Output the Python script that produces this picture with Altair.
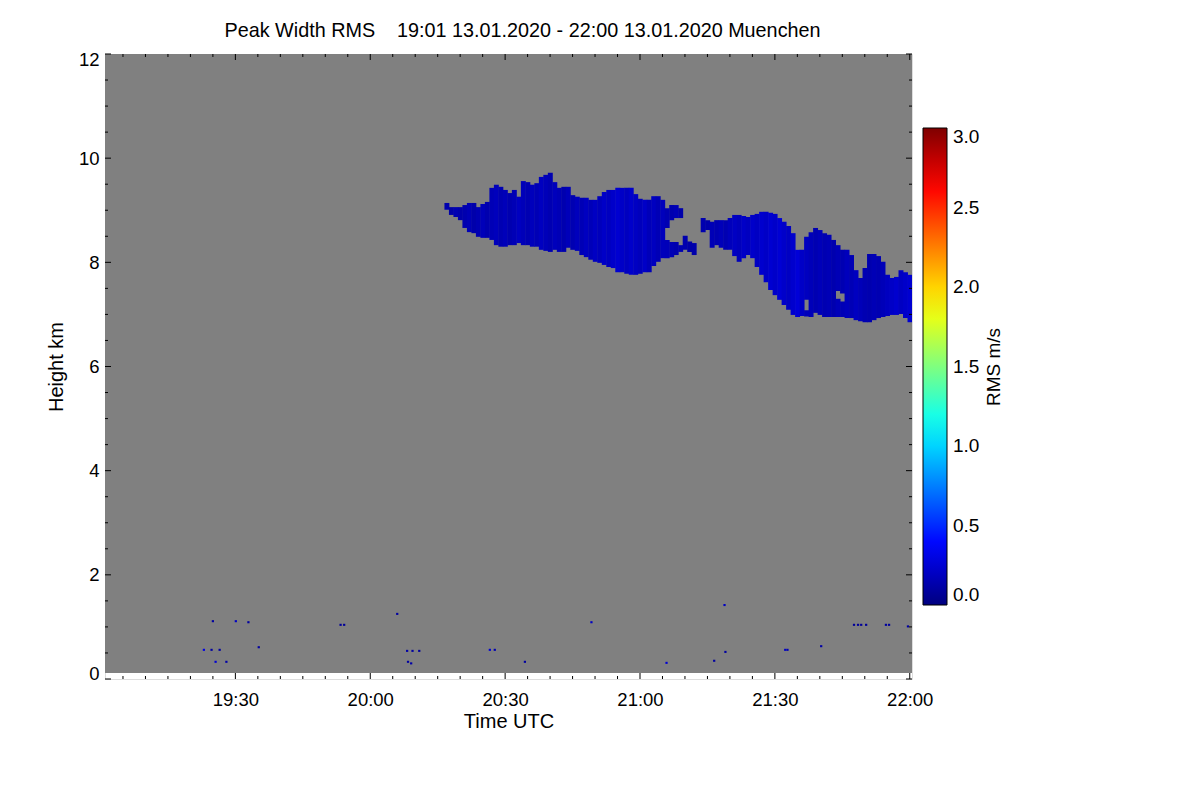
import altair as alt
import pandas as pd

FONT = "Liberation Sans"
W, H = 807, 625

title_text = "Peak Width RMS\u00a0\u00a0\u00a0 19:01 13.01.2020 - 22:00 13.01.2020 Muenchen"
x_title = "Time UTC"
y_title = "Height km"
cbar_title = "RMS m/s"

# time in minutes after 19:00 UTC, height in km, RMS in m/s
cloud_min = [77, 78, 79, 80, 81, 82, 83, 84, 85, 86, 87, 88, 89, 90, 91, 92, 93, 94, 95, 96,
             97, 98, 99, 100, 101, 102, 103, 104, 105, 106, 107, 108, 109, 110, 111, 112, 113,
             114, 115, 116, 117, 118, 119, 120, 121, 122, 123, 124, 125, 126, 126, 127, 127,
             128, 128, 129, 129, 130, 131, 132, 134, 135, 136, 137, 138, 139, 140, 141, 142,
             143, 144, 145, 146, 147, 148, 149, 150, 151, 152, 153, 154, 155, 156, 157, 157,
             158, 159, 160, 161, 162, 163, 164, 164, 165, 165, 166, 167, 168, 169, 170, 171,
             172, 173, 174, 175, 176, 177, 178, 179, 180]
cloud_bottom = [9.01, 8.91, 8.87, 8.81, 8.66, 8.58, 8.56, 8.49, 8.47, 8.47, 8.43, 8.33, 8.30, 8.30,
                8.33, 8.33, 8.37, 8.33, 8.33, 8.30, 8.30, 8.24, 8.22, 8.20, 8.24, 8.20, 8.20, 8.28,
                8.24, 8.22, 8.14, 8.10, 8.05, 8.01, 7.99, 7.95, 7.91, 7.89, 7.81, 7.81, 7.78, 7.76,
                7.76, 7.78, 7.81, 7.81, 7.93, 8.01, 8.08, 8.66, 8.08, 8.81, 8.10, 8.85, 8.14, 8.85,
                8.20, 8.24, 8.20, 8.14, 8.58, 8.62, 8.28, 8.33, 8.28, 8.24, 8.24, 8.12, 8.01, 8.08,
                8.14, 8.08, 7.91, 7.76, 7.62, 7.47, 7.37, 7.28, 7.18, 7.09, 6.99, 6.95, 6.97, 7.28,
                6.96, 6.95, 7.03, 6.99, 6.95, 6.95, 6.95, 7.45, 6.95, 7.40, 6.95, 6.93, 6.93, 6.89,
                6.87, 6.85, 6.85, 6.89, 6.93, 6.95, 6.97, 6.99, 6.99, 7.01, 6.93, 6.85]
cloud_top = [9.14, 9.06, 9.06, 9.06, 9.10, 9.14, 9.14, 9.06, 9.12, 9.16, 9.43, 9.49, 9.45, 9.39,
             9.33, 9.39, 9.26, 9.56, 9.54, 9.49, 9.52, 9.64, 9.68, 9.72, 9.54, 9.43, 9.45, 9.45,
             9.29, 9.26, 9.24, 9.24, 9.20, 9.20, 9.27, 9.35, 9.39, 9.39, 9.43, 9.43, 9.43, 9.43,
             9.31, 9.22, 9.20, 9.20, 9.27, 9.27, 9.20, 9.04, 8.43, 9.10, 8.39, 9.10, 8.39, 9.04,
             8.33, 8.51, 8.40, 8.37, 8.85, 8.81, 8.78, 8.81, 8.81, 8.81, 8.85, 8.91, 8.91, 8.89,
             8.87, 8.91, 8.93, 8.97, 8.97, 8.95, 8.93, 8.85, 8.78, 8.70, 8.56, 8.24, 8.24, 8.49,
             7.08, 8.58, 8.66, 8.62, 8.56, 8.53, 8.43, 8.33, 7.30, 8.24, 7.25, 8.24, 8.14, 7.85,
             7.70, 7.89, 8.16, 8.16, 8.12, 8.01, 7.76, 7.70, 7.72, 7.85, 7.81, 7.76]
cloud_rms = [0.14, 0.12, 0.15, 0.13, 0.14, 0.16, 0.13, 0.15, 0.17, 0.14, 0.16, 0.18, 0.15, 0.17,
             0.14, 0.16, 0.19, 0.17, 0.15, 0.18, 0.16, 0.19, 0.17, 0.15, 0.18, 0.16, 0.14, 0.17,
             0.15, 0.18, 0.16, 0.19, 0.17, 0.20, 0.18, 0.21, 0.19, 0.22, 0.24, 0.21, 0.19, 0.22,
             0.20, 0.18, 0.21, 0.17, 0.19, 0.16, 0.18, 0.15, 0.17, 0.14, 0.16, 0.16, 0.14, 0.13,
             0.15, 0.14, 0.12, 0.13, 0.14, 0.13, 0.16, 0.15, 0.17, 0.15, 0.18, 0.20, 0.18, 0.21,
             0.19, 0.22, 0.20, 0.23, 0.21, 0.24, 0.22, 0.25, 0.22, 0.20, 0.23, 0.26, 0.21, 0.19,
             0.18, 0.17, 0.15, 0.17, 0.15, 0.16, 0.14, 0.16, 0.17, 0.15, 0.16, 0.18, 0.16, 0.19,
             0.17, 0.15, 0.14, 0.16, 0.15, 0.17, 0.19, 0.21, 0.23, 0.20, 0.22, 0.24]

dot_min = [23.0, 24.7, 25.0, 25.6, 26.5, 28.0, 30.1, 32.9, 35.2, 53.4, 54.2, 66.0, 68.2, 69.4,
           70.9, 68.4, 69.1, 86.6, 87.7, 94.4, 109.2, 125.9, 136.5, 138.8, 139.0, 152.3, 152.8,
           160.3, 167.6, 168.5, 169.2, 170.3, 174.7, 175.4, 179.6]
dot_height = [0.56, 0.56, 1.11, 0.33, 0.56, 0.33, 1.11, 1.09, 0.61, 1.04, 1.04, 1.25, 0.54, 0.54,
              0.54, 0.33, 0.30, 0.56, 0.56, 0.33, 1.09, 0.31, 0.35, 1.42, 0.52, 0.56, 0.56,
              0.63, 1.04, 1.04, 1.04, 1.04, 1.04, 1.04, 1.01]
dot_rms = [0.30, 0.10, 0.10, 0.25, 0.10, 0.12, 0.20, 0.10, 0.10, 0.08, 0.08, 0.10, 0.12, 0.10,
           0.08, 0.10, 0.12, 0.25, 0.15, 0.10, 0.20, 0.25, 0.10, 0.20, 0.10, 0.20, 0.15,
           0.12, 0.08, 0.08, 0.08, 0.08, 0.10, 0.08, 0.10]

x_domain = [1, 180.5]
y_domain = [0, 12]
data_floor = 0.115
x_major = [30, 60, 90, 120, 150, 180]
x_minor = [m for m in range(5, 181, 5) if m % 30 != 0]
y_major = [0, 2, 4, 6, 8, 10, 12]
y_minor = [i / 2 for i in range(25) if i % 4 != 0]
rms_ticks = [0.0, 0.5, 1.0, 1.5, 2.0, 2.5, 3.0]
jet = ["#00007f", "#0000ff", "#007fff", "#00ffff", "#7fff7f",
       "#ffff00", "#ff7f00", "#ff0000", "#7f0000"]

cells = pd.concat([
    pd.DataFrame({"t0": [m - 0.5 for m in cloud_min], "t1": [m + 0.6 for m in cloud_min],
                  "h0": cloud_bottom, "h1": cloud_top, "rms": cloud_rms}),
    pd.DataFrame({"t0": [m - 0.25 for m in dot_min], "t1": [m + 0.25 for m in dot_min],
                  "h0": [h - 0.02 for h in dot_height], "h1": [h + 0.02 for h in dot_height],
                  "rms": dot_rms}),
], ignore_index=True)

bg_df = pd.DataFrame({"t0": [x_domain[0]], "t1": [x_domain[1]], "h0": [data_floor], "h1": [y_domain[1]]})

xscale = alt.Scale(domain=x_domain, nice=False, zero=False)
yscale = alt.Scale(domain=y_domain, nice=False, zero=False)

xaxis = alt.Axis(values=x_major,
                 labelExpr="(19 + floor(datum.value / 60)) + ':' + (datum.value % 60 == 0 ? '00' : '30')",
                 ticks=False, domain=False, grid=False, labelFlush=False,
                 labelFont=FONT, labelFontSize=18.5, labelColor="black", labelPadding=11,
                 titleFont=FONT, titleFontSize=20, titleFontWeight="normal", titleColor="black",
                 titlePadding=3)
yaxis = alt.Axis(values=y_major, format="d", ticks=False, domain=False, grid=False,
                 labelFlush=True, labelFlushOffset=4,
                 labelFont=FONT, labelFontSize=18.5, labelColor="black", labelPadding=6,
                 titleFont=FONT, titleFontSize=20, titleFontWeight="normal", titleColor="black",
                 titlePadding=12)

bg = alt.Chart(bg_df).mark_rect(color="#808080").encode(
    x=alt.X("t0:Q", scale=xscale, axis=xaxis, title=x_title),
    x2="t1",
    y=alt.Y("h0:Q", scale=yscale, axis=yaxis, title=y_title),
    y2="h1",
)

cloud = alt.Chart(cells).mark_rect(clip=True).encode(
    x=alt.X("t0:Q", title=x_title),
    x2="t1",
    y=alt.Y("h0:Q", title=y_title),
    y2="h1",
    color=alt.Color("rms:Q",
                    scale=alt.Scale(domain=[0, 3], range=jet, interpolate="rgb"),
                    legend=alt.Legend(orient="none", legendX=818, legendY=74, direction="vertical",
                                      gradientLength=477, gradientThickness=24, values=rms_ticks,
                                      format=".1f", labelFont=FONT, labelFontSize=19,
                                      labelColor="black", labelOffset=6, title=None,
                                      gradientStrokeColor="black", gradientStrokeWidth=1,
                                      padding=0)),
)

def xticks(vals, y0, y1):
    return alt.Chart(pd.DataFrame({"t0": vals})).mark_rule(color="black", strokeWidth=1).encode(
        x=alt.X("t0:Q", title=x_title), y=alt.value(y0), y2=alt.value(y1))

def yticks(vals, x0, x1):
    return alt.Chart(pd.DataFrame({"h0": vals})).mark_rule(color="black", strokeWidth=1).encode(
        y=alt.Y("h0:Q", title=y_title), x=alt.value(x0), x2=alt.value(x1))

ticks = [
    xticks(x_major, H, H - 6), xticks(x_minor, H, H - 3),
    xticks(x_major, 0, 6), xticks(x_minor, 0, 3),
    yticks(y_major, 0, 6), yticks(y_minor, 0, 3),
    yticks(y_major, W, W - 6), yticks(y_minor, W, W - 3),
]

cbar_label = alt.Chart(pd.DataFrame({"label": [cbar_title]})).mark_text(
    angle=270, font=FONT, fontSize=19, color="black", align="center", baseline="middle"
).encode(x=alt.value(889), y=alt.value(313), text="label:N")

chart = alt.layer(bg, cloud, *ticks, cbar_label).properties(
    width=W, height=H,
    title=alt.TitleParams(text=title_text, font=FONT, fontSize=19.8, fontWeight="normal",
                          color="black", anchor="middle", dx=14, offset=9),
    autosize=alt.AutoSizeParams(type="none"),
    padding={"left": 97, "top": 46, "right": 270, "bottom": 100},
).configure_view(stroke="black", strokeWidth=1).configure(background="white")

chart.save("out.html", embed_options={"renderer": "svg", "actions": False})
